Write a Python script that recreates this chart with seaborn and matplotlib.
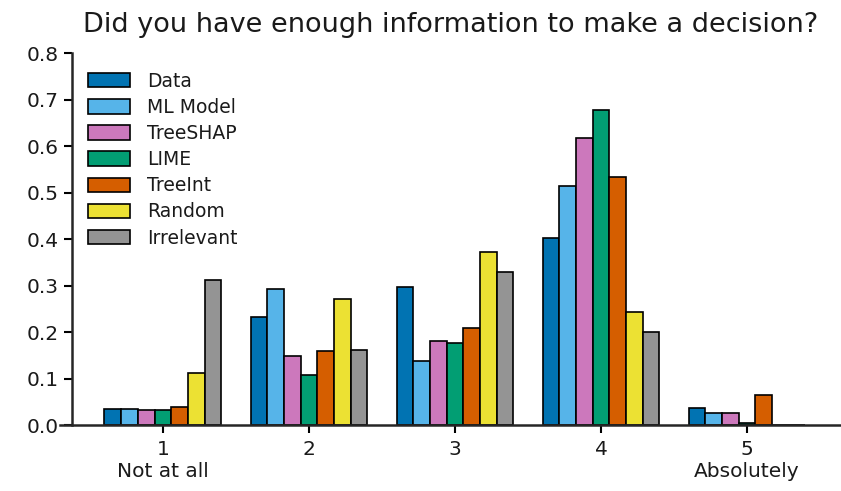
import matplotlib
matplotlib.use("Agg")
import matplotlib.pyplot as plt
import seaborn as sns
import pandas as pd

# Answer categories (Likert scale) and their tick labels
answers = ["1", "2", "3", "4", "5"]
tick_labels = ["1\nNot at all", "2", "3", "4", "5\nAbsolutely"]

# Fraction of responses per explanation type
methods = ["Data", "ML Model", "TreeSHAP", "LIME", "TreeInt", "Random", "Irrelevant"]
data_vals       = [0.034, 0.232, 0.297, 0.402, 0.037]
ml_model_vals   = [0.034, 0.292, 0.137, 0.513, 0.025]
treeshap_vals   = [0.032, 0.148, 0.180, 0.617, 0.026]
lime_vals       = [0.033, 0.108, 0.176, 0.678, 0.005]
treeint_vals    = [0.038, 0.160, 0.208, 0.533, 0.065]
random_vals     = [0.111, 0.272, 0.373, 0.244, 0.000]
irrelevant_vals = [0.311, 0.162, 0.328, 0.200, 0.000]

series = [data_vals, ml_model_vals, treeshap_vals, lime_vals,
          treeint_vals, random_vals, irrelevant_vals]

rows = []
for method, vals in zip(methods, series):
    for ans, v in zip(answers, vals):
        rows.append({"answer": ans, "method": method, "fraction": v})
df = pd.DataFrame(rows)

cb = sns.color_palette("colorblind")
palette = [cb[0], cb[9], cb[4], cb[2], cb[3], cb[8], cb[7]]

sns.set_style("ticks")
plt.rcParams["font.family"] = ["DejaVu Sans"]
plt.rcParams["text.color"] = "#1a1a1a"

fig = plt.figure(figsize=(8.41, 4.91), dpi=100)
ax = fig.add_axes([0.0713, 0.1344, 0.9287, 0.7576])

sns.barplot(data=df, x="answer", y="fraction", hue="method",
            hue_order=methods, order=answers, palette=palette,
            edgecolor="black", linewidth=1.2, width=0.8, ax=ax,
            saturation=1.0, errorbar=None)

ax.set_xlim(-0.705, 4.644)
ax.set_ylim(0, 0.8)
ax.set_yticks([0.0, 0.1, 0.2, 0.3, 0.4, 0.5, 0.6, 0.7, 0.8])
ax.set_yticklabels([f"{t:.1f}" for t in ax.get_yticks()])
ax.set_xticks(range(len(answers)))
ax.set_xticklabels(tick_labels)
ax.tick_params(axis="both", labelsize=14.5, length=6, width=1.5,
               colors="black", labelcolor="#1a1a1a")
ax.tick_params(axis="x", pad=5)

ax.set_xlabel("")
ax.set_ylabel("")

for side in ["top", "right"]:
    ax.spines[side].set_visible(False)
ax.spines["left"].set_position(("data", -0.623))
ax.spines["left"].set_linewidth(1.8)
ax.spines["bottom"].set_linewidth(1.8)

ax.set_title("Did you have enough information to make a decision?",
             fontsize=19.5, pad=15, color="#1a1a1a")

leg = ax.legend(loc="upper left", bbox_to_anchor=(0.0145, 0.995), frameon=False,
                fontsize=13.5, handlelength=2.25, handleheight=0.8,
                labelspacing=0.38, handletextpad=0.9)

fig.savefig("out.png", dpi=100)
